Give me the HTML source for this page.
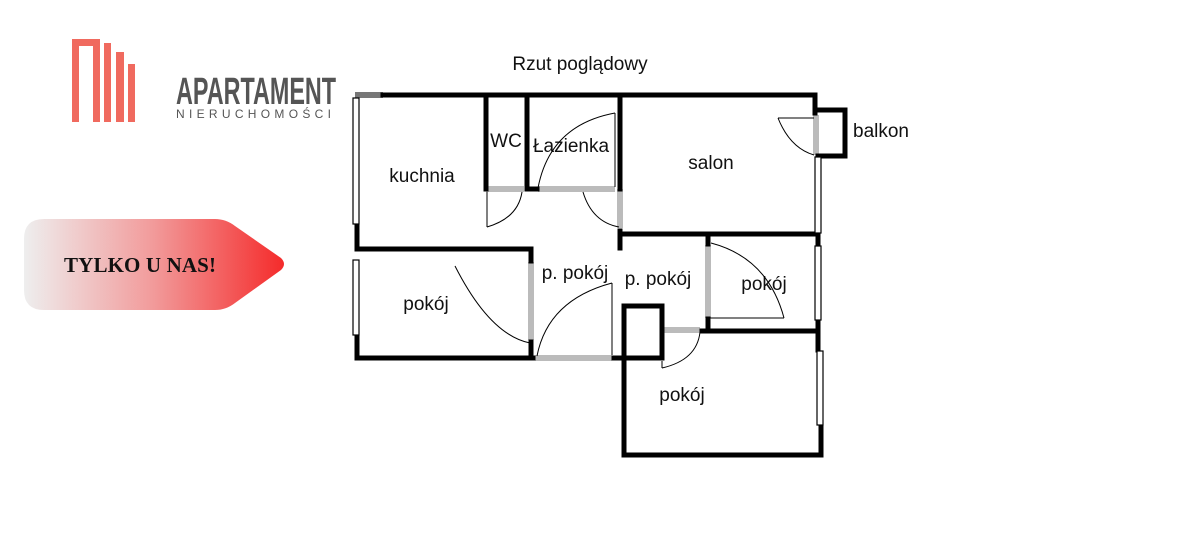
<!DOCTYPE html>
<html><head><meta charset="utf-8"><style>
html,body{margin:0;padding:0;background:#fff;}
svg{display:block;}
</style></head><body>
<svg width="1200" height="550" viewBox="0 0 1200 550" xmlns="http://www.w3.org/2000/svg">
<defs>
<linearGradient id="g" x1="0" x2="1" y1="0" y2="0">
<stop offset="0" stop-color="#eeeeee"/><stop offset="0.5" stop-color="#f29a9a"/><stop offset="1" stop-color="#f42b2b"/>
</linearGradient>
</defs>
<rect width="1200" height="550" fill="#fff"/>
<!-- logo -->
<path d="M75.5 122 V42.5 H96.5 V122" fill="none" stroke="#f06a5f" stroke-width="7"/>
<rect x="104" y="43" width="7" height="79" fill="#f06a5f"/>
<rect x="116" y="52" width="8" height="70" fill="#f06a5f"/>
<rect x="128" y="64" width="7" height="58" fill="#f06a5f"/>
<text x="176" y="104" font-family="Liberation Sans, sans-serif" font-weight="bold" font-size="38" fill="#555" transform="translate(176 0) scale(0.615 1) translate(-176 0)">APARTAMENT</text>
<text x="176" y="118" font-family="Liberation Sans, sans-serif" font-size="12" fill="#555" letter-spacing="4.3">NIERUCHOMOŚCI</text>
<!-- tag -->
<path d="M44 219 H215 Q226 219 235 226 L281 258 Q287 264 281 270 L235 303 Q226 310 215 310 H44 Q24 310 24 290 V239 Q24 219 44 219 Z" fill="url(#g)"/>
<text x="64" y="272" font-family="Liberation Serif, serif" font-weight="bold" font-size="21" fill="#111" textLength="152">TYLKO U NAS!</text>
<!-- plan -->
<g font-family="Liberation Sans, sans-serif" font-size="19" fill="#111">
<text x="580" y="70" text-anchor="middle">Rzut poglądowy</text>
<text x="422" y="182" text-anchor="middle">kuchnia</text>
<text x="506" y="147" text-anchor="middle">WC</text>
<text x="571" y="152" text-anchor="middle">Łazienka</text>
<text x="711" y="169" text-anchor="middle">salon</text>
<text x="881" y="137" text-anchor="middle">balkon</text>
<text x="575" y="279" text-anchor="middle">p. pokój</text>
<text x="658" y="285" text-anchor="middle">p. pokój</text>
<text x="764" y="290" text-anchor="middle">pokój</text>
<text x="426" y="310" text-anchor="middle">pokój</text>
<text x="682" y="401" text-anchor="middle">pokój</text>
</g>
<!-- gray door openings -->
<g stroke="#bbb" stroke-width="6" fill="none">
<line x1="355" y1="95" x2="383" y2="95" stroke="#777"/>
<line x1="486" y1="189" x2="524" y2="189"/>
<line x1="538" y1="189" x2="615" y2="189"/>
<line x1="620" y1="189" x2="620" y2="228"/>
<line x1="531" y1="262" x2="531" y2="340"/>
<line x1="535" y1="358" x2="612" y2="358"/>
<line x1="708" y1="245" x2="708" y2="318"/>
<line x1="662" y1="330" x2="700" y2="330"/>
<line x1="816" y1="115" x2="816" y2="155"/>
</g>
<!-- walls -->
<g stroke="#000" stroke-width="5" fill="none" stroke-linecap="square">
<line x1="383" y1="95" x2="815" y2="95"/>
<line x1="815" y1="95" x2="815" y2="113"/>
<polyline points="816,110 845,110 845,156 818,156"/>
<line x1="486" y1="97" x2="486" y2="189"/>
<line x1="527" y1="97" x2="527" y2="189"/>
<line x1="527" y1="189" x2="537" y2="189"/>
<line x1="620" y1="97" x2="620" y2="189"/>
<line x1="620" y1="231" x2="620" y2="248"/>
<line x1="620" y1="234" x2="818" y2="234"/>
<line x1="357" y1="226" x2="357" y2="248"/>
<line x1="357" y1="249" x2="531" y2="249"/>
<line x1="531" y1="249" x2="531" y2="261"/>
<line x1="531" y1="342" x2="531" y2="358"/>
<line x1="357" y1="336" x2="357" y2="358"/>
<line x1="357" y1="358" x2="533" y2="358"/>
<line x1="614" y1="358" x2="662" y2="358"/>
<rect x="624" y="306" width="38" height="52"/>
<line x1="624" y1="358" x2="624" y2="455"/>
<line x1="624" y1="455" x2="821" y2="455"/>
<line x1="821" y1="427" x2="821" y2="455"/>
<line x1="708" y1="236" x2="708" y2="244"/>
<line x1="708" y1="319" x2="708" y2="331"/>
<line x1="702" y1="331" x2="818" y2="331"/>
<line x1="818" y1="235" x2="818" y2="245"/>
<line x1="818" y1="321" x2="818" y2="350"/>
</g>
<!-- windows -->
<g fill="#fff" stroke="#000" stroke-width="1.2">
<rect x="353" y="98" width="6" height="126"/>
<rect x="353" y="260" width="6" height="75"/>
<rect x="815" y="157" width="6" height="76"/>
<rect x="815" y="246" width="6" height="74"/>
<rect x="817" y="351" width="6" height="74"/>
</g>
<!-- door swings -->
<g stroke="#000" stroke-width="1" fill="none">
<line x1="487" y1="192" x2="487" y2="227"/>
<path d="M487 227 Q518 218 522 192"/>
<line x1="615" y1="113" x2="615" y2="187"/>
<path d="M615 113 Q550 125 538 188"/>
<path d="M583 192 Q592 222 619 227"/>
<path d="M455 266 Q490 335 530 343"/>
<line x1="612" y1="283" x2="612" y2="355"/>
<path d="M612 283 Q548 300 537 356"/>
<line x1="710" y1="318" x2="784" y2="318"/>
<path d="M711 243 Q768 258 784 318"/>
<line x1="662" y1="361" x2="662" y2="368"/>
<path d="M700 332 Q697 360 662 368"/>
<line x1="778" y1="118" x2="814" y2="118"/>
<path d="M778 118 Q790 148 814 155"/>
</g>
</svg>
</body></html>
